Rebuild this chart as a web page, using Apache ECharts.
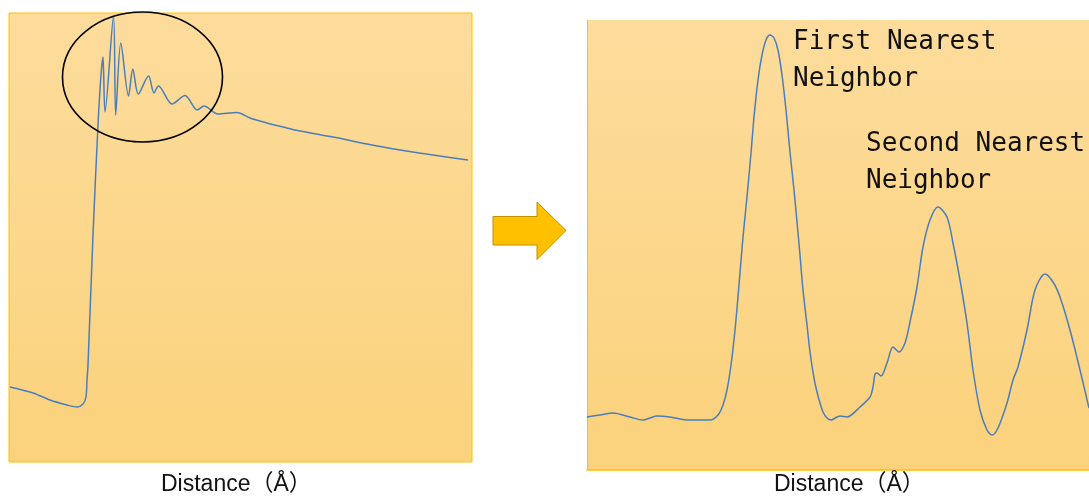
<!DOCTYPE html>
<html>
<head>
<meta charset="utf-8">
<script src="https://cdn.jsdelivr.net/npm/echarts@6/dist/echarts.min.js"></script>
<style>
  html, body { margin: 0; padding: 0; background: #ffffff; }
  #chart { width: 1089px; height: 497px; }
</style>
</head>
<body>
<div id="chart"></div>
<script>
// Absorption spectrum (left): distance vs. intensity, arbitrary units
const spectrumDistance = [1, 24, 41, 58, 68, 74, 77, 78, 79, 84, 89, 92, 94, 96, 104.5, 106.7, 111.8, 119.5, 123.8, 129.3,
  139.5, 145, 149.5, 163, 176, 188.3, 195, 209, 228, 241, 258, 274, 291, 324, 358, 391, 424, 459];
const spectrumIntensity = [75, 69, 62, 57, 55, 58, 65, 82, 97, 227, 337, 387, 405, 350, 446, 347, 419, 366, 393, 368,
  386, 369, 376, 358, 366.5, 352, 356, 348, 349.5, 344, 339, 335, 331, 325, 318, 312, 307, 302];

// Radial distribution (right): distance vs. amplitude, arbitrary units
const rdfDistance = [0, 13, 26, 43, 56, 63, 70, 83, 100, 123, 131, 136, 140, 144, 148, 152, 156, 160, 164, 167,
  171, 175, 179, 183, 187, 191, 195, 199, 203, 207, 210, 213, 216, 220, 223, 227, 230, 233, 236, 240,
  244, 250, 253, 260, 273, 283, 286, 288, 290, 294, 300, 306, 312, 318, 323, 330, 336, 343, 351, 360,
  366, 373, 380, 386, 393, 400, 405, 411, 420, 426, 431, 440, 448, 458, 466, 473, 483, 493, 502];
const rdfAmplitude = [53, 55, 57, 53, 50, 52, 54, 53, 50, 50, 55, 65, 80, 105, 140, 185, 233, 273, 317, 353,
  390, 415, 430, 435, 432, 420, 395, 360, 318, 280, 248, 215, 180, 145, 118, 92, 78, 67, 58, 52,
  50, 53, 54, 53, 63, 73, 83, 96, 97, 94, 107, 123, 118, 127, 148, 183, 223, 250, 263, 253,
  227, 190, 147, 100, 60, 40, 35, 42, 67, 90, 103, 140, 180, 196, 188, 173, 140, 100, 62];

const axisTitle = 'Distance（Å）';
const peakLabels = ['First Nearest\nNeighbor', 'Second Nearest\nNeighbor'];

const pairs = (xs, ys) => xs.map((x, i) => [x, ys[i]]);

const panelFill = () => new echarts.graphic.LinearGradient(0, 0, 0, 1, [
  { offset: 0, color: '#fddc9c' },
  { offset: 1, color: '#fbd27c' }
]);

const gold = '#ffc000';
const lineBlue = '#4a7ebb';
const hiddenAxis = {
  axisLine: { show: false }, axisTick: { show: false },
  axisLabel: { show: false }, splitLine: { show: false }
};

const chart = echarts.init(document.getElementById('chart'), null, { renderer: 'canvas' });

chart.setOption({
  animation: false,
  backgroundColor: '#ffffff',
  grid: [
    { left: 9, top: 13, width: 463, height: 449, show: true, outerBoundsMode: 'none',
      backgroundColor: panelFill(), borderColor: gold, borderWidth: 1 },
    { left: 587, top: 20, right: -30, bottom: 27, show: true, outerBoundsMode: 'none',
      backgroundColor: panelFill(), borderWidth: 0 }
  ],
  xAxis: [
    Object.assign({ gridIndex: 0, type: 'value', min: 0, max: 463 }, hiddenAxis),
    Object.assign({ gridIndex: 1, type: 'value', min: 0, max: 532 }, hiddenAxis,
      { axisLine: { show: true, lineStyle: { color: gold, width: 1.5 } } })
  ],
  yAxis: [
    Object.assign({ gridIndex: 0, type: 'value', min: 0, max: 449 }, hiddenAxis),
    Object.assign({ gridIndex: 1, type: 'value', min: 0, max: 450 }, hiddenAxis,
      { axisLine: { show: true, lineStyle: { color: gold, width: 1 } } })
  ],
  series: [
    { type: 'line', xAxisIndex: 0, yAxisIndex: 0, data: pairs(spectrumDistance, spectrumIntensity),
      showSymbol: false, smooth: 0.3,
      lineStyle: { color: lineBlue, width: 1.5 } },
    { type: 'line', xAxisIndex: 1, yAxisIndex: 1, data: pairs(rdfDistance, rdfAmplitude),
      showSymbol: false, smooth: 0.3,
      lineStyle: { color: lineBlue, width: 1.5 } }
  ]
});

// Annotations placed from data coordinates of each panel
const toPx = (grid, pt) => chart.convertToPixel({ xAxisIndex: grid, yAxisIndex: grid }, pt);

const ringCenter = toPx(0, [133.5, 385]);
const ringEdge = toPx(0, [133.5 + 80, 385 + 65]);
const firstLabel = toPx(1, [206, 409.5]);
const secondLabel = toPx(1, [279, 307]);
const leftBottom = toPx(0, [0, 0]);
const rightBottom = toPx(1, [0, 0]);

const labelStyle = {
  fontFamily: 'DejaVu Sans Mono, monospace', fontSize: 26, lineHeight: 37,
  fill: '#111111', align: 'left', verticalAlign: 'middle'
};
const titleStyle = {
  text: axisTitle, fontFamily: 'Liberation Sans, Arial, Noto Sans CJK JP', fontSize: 23,
  fill: '#111111', align: 'left', verticalAlign: 'middle'
};

chart.setOption({
  graphic: [
    { type: 'ellipse', z: 100,
      shape: { cx: ringCenter[0], cy: ringCenter[1],
               rx: Math.abs(ringEdge[0] - ringCenter[0]), ry: Math.abs(ringCenter[1] - ringEdge[1]) },
      style: { fill: 'none', stroke: '#000000', lineWidth: 1.6 } },
    { type: 'polygon', z: 100,
      shape: { points: [[493, 216.5], [537, 216.5], [537, 202], [566, 230.5], [537, 259.5], [537, 245], [493, 245]] },
      style: { fill: '#ffc000', stroke: '#bf9000', lineWidth: 1 } },
    { type: 'text', z: 100, x: firstLabel[0], y: firstLabel[1],
      style: Object.assign({ text: peakLabels[0] }, labelStyle) },
    { type: 'text', z: 100, x: secondLabel[0], y: secondLabel[1],
      style: Object.assign({ text: peakLabels[1] }, labelStyle) },
    { type: 'text', z: 100, x: leftBottom[0] + 152, y: leftBottom[1] + 23,
      style: Object.assign({}, titleStyle) },
    { type: 'text', z: 100, x: rightBottom[0] + 187, y: rightBottom[1] + 15,
      style: Object.assign({}, titleStyle) }
  ]
});
</script>
</body>
</html>
